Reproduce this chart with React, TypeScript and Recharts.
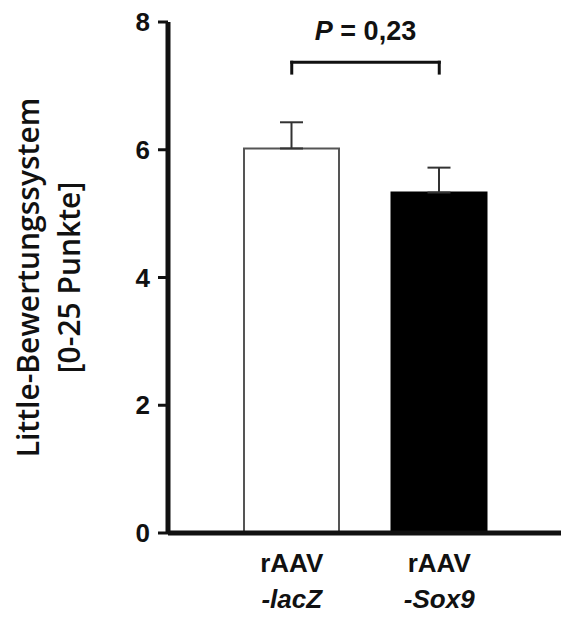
import React from 'react';
import { BarChart, Bar, XAxis, YAxis, Cell, ErrorBar, ReferenceLine } from 'recharts';

const categories = ['lacZ', 'Sox9'];
const means = [6.02, 5.33];
const sem = [0.41, 0.39];
const yTicks = [0, 2, 4, 6, 8];
const barFills = ['#ffffff', '#000000'];
const barStrokes = ['#555555', '#000000'];
const pValueText = '0,23';
const bracketTop = 7.37;
const bracketFoot = 7.2;

const data = categories.map((name, i) => ({
  name,
  value: means[i],
  // one-sided error bar (upward only)
  err: [0, sem[i]],
}));

const INK = '#111111';
const ARIAL = '"Liberation Sans", Arial, sans-serif';

const XTick = (props: any) => {
  const { x, y, payload } = props;
  return (
    <g>
      <text x={x} y={y} dy={39} textAnchor="middle" fontFamily={ARIAL} fontSize={26} fontWeight="bold" fill={INK}>
        rAAV
      </text>
      <text
        x={x}
        y={y}
        dy={75}
        textAnchor="middle"
        fontFamily={ARIAL}
        fontSize={26}
        fontWeight="bold"
        fontStyle="italic"
        fill={INK}
      >
        {'-' + payload.value}
      </text>
    </g>
  );
};

const YTitle = (props: any) => {
  const { viewBox } = props;
  const cy = viewBox.y + viewBox.height / 2;
  const style = { fontFamily: '"Open Sans", sans-serif', fontSize: 30, fontWeight: 600, fill: INK };
  return (
    <g>
      <text x={39} y={cy} transform={`rotate(-90 39 ${cy})`} textAnchor="middle" style={style}>
        Little-Bewertungssystem
      </text>
      <text x={80} y={cy} transform={`rotate(-90 80 ${cy})`} textAnchor="middle" style={style}>
        [0-25 Punkte]
      </text>
    </g>
  );
};

const PLabel = (props: any) => {
  const { viewBox } = props;
  const cx = viewBox.x + viewBox.width / 2;
  return (
    <text x={cx} y={viewBox.y - 22} textAnchor="middle" fontFamily={ARIAL} fontSize={27} fontWeight="bold" fill={INK}>
      <tspan fontStyle="italic">P</tspan>
      {' = ' + pValueText}
    </text>
  );
};

export default function App() {
  return (
    <div style={{ position: 'absolute', left: 0, top: 0, background: '#fff' }}>
      <BarChart width={561} height={617} data={data} margin={{ top: 22, right: 0, bottom: 0, left: 0 }}>
        <XAxis
          dataKey="name"
          height={84}
          padding={{ left: 50, right: 48 }}
          tickLine={false}
          tickSize={0}
          tickMargin={0}
          axisLine={{ stroke: INK, strokeWidth: 5 }}
          tick={<XTick />}
          interval={0}
        />
        <YAxis
          width={168}
          domain={[0, 8]}
          ticks={yTicks}
          tickSize={10}
          tickMargin={8}
          axisLine={{ stroke: INK, strokeWidth: 5 }}
          tickLine={{ stroke: INK, strokeWidth: 3 }}
          tick={{ fontFamily: ARIAL, fontSize: 26, fontWeight: 'bold', fill: INK }}
          label={<YTitle />}
        />
        <Bar dataKey="value" barSize={95} strokeWidth={2} isAnimationActive={false}>
          {data.map((d, i) => (
            <Cell key={d.name} fill={barFills[i]} stroke={barStrokes[i]} />
          ))}
          <ErrorBar dataKey="err" width={11.5} stroke="#333333" strokeWidth={2} direction="y" isAnimationActive={false} />
        </Bar>
        <ReferenceLine
          segment={[
            { x: categories[0], y: bracketTop },
            { x: categories[1], y: bracketTop },
          ]}
          stroke={INK}
          strokeWidth={3}
          strokeLinecap="square"
          ifOverflow="visible"
          label={<PLabel />}
        />
        {categories.map((c) => (
          <ReferenceLine
            key={c}
            segment={[
              { x: c, y: bracketFoot },
              { x: c, y: bracketTop },
            ]}
            stroke={INK}
            strokeWidth={3}
            strokeLinecap="square"
            ifOverflow="visible"
          />
        ))}
      </BarChart>
    </div>
  );
}
